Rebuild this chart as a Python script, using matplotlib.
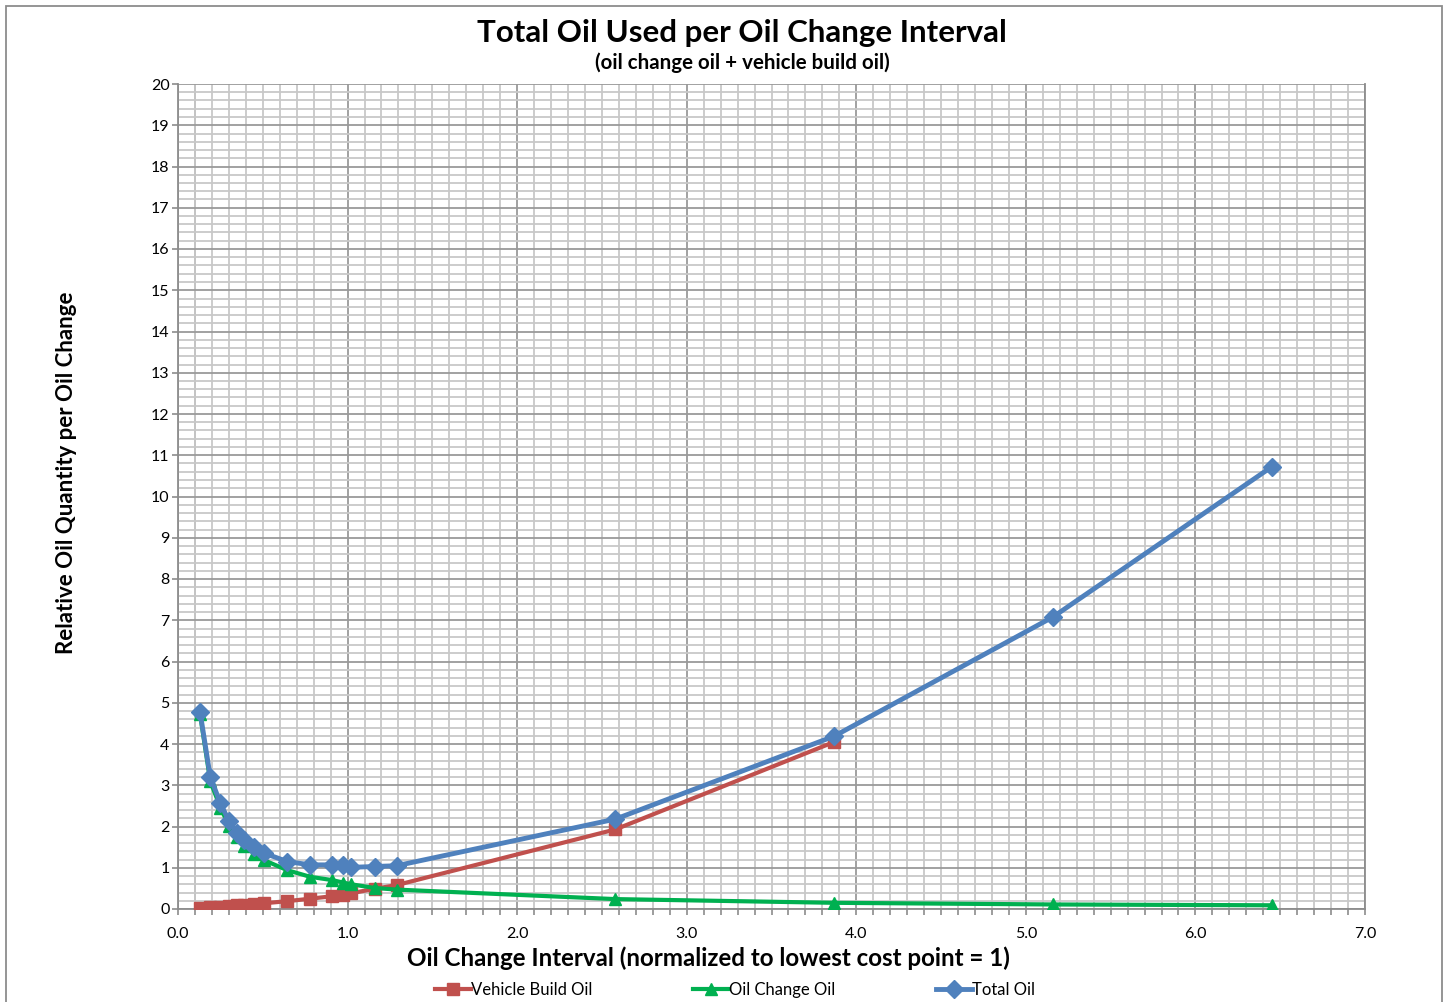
import matplotlib
matplotlib.use("Agg")
import matplotlib.pyplot as plt
from matplotlib.patches import Rectangle
from matplotlib.ticker import MultipleLocator, FormatStrFormatter

# ---- data ----
x_interval = [0.13, 0.19, 0.25, 0.30, 0.35, 0.39, 0.45, 0.51, 0.645, 0.78,
              0.91, 0.975, 1.02, 1.16, 1.29, 2.58, 3.87, 5.16, 6.45]
total_oil = [4.78, 3.21, 2.56, 2.14, 1.85, 1.67, 1.51, 1.35, 1.15, 1.07,
             1.07, 1.07, 1.01, 1.03, 1.05, 2.18, 4.19, 7.08, 10.72]
oil_change_oil = [4.72, 3.10, 2.46, 2.02, 1.74, 1.53, 1.34, 1.18, 0.94, 0.78,
                  0.70, 0.64, 0.60, 0.51, 0.47, 0.24, 0.15, 0.11, 0.09]
x_build = [0.13, 0.19, 0.25, 0.30, 0.35, 0.39, 0.45, 0.51, 0.645, 0.78,
           0.91, 0.975, 1.02, 1.16, 1.29, 2.58, 3.87]
vehicle_build_oil = [0.03, 0.05, 0.06, 0.08, 0.09, 0.10, 0.12, 0.14, 0.19, 0.25,
                     0.31, 0.34, 0.38, 0.49, 0.58, 1.93, 4.05]

title = "Total Oil Used per Oil Change Interval"
subtitle = "(oil change oil + vehicle build oil)"
xlabel = "Oil Change Interval (normalized to lowest cost point = 1)"
ylabel = "Relative Oil Quantity per Oil Change"

RED = "#C0504D"
GREEN = "#00B050"
BLUE = "#4F81BD"
FONT = ["Lato", "DejaVu Sans"]
plt.rcParams["font.family"] = FONT

W, H = 1449, 1002
fig = plt.figure(figsize=(W / 100, H / 100), dpi=100)
ax = fig.add_axes([178 / W, 1 - 909 / H, (1365 - 178) / W, (909 - 84) / H])

ax.set_xlim(0, 7)
ax.set_ylim(0, 20)
ax.xaxis.set_major_locator(MultipleLocator(1.0))
ax.xaxis.set_minor_locator(MultipleLocator(0.1))
ax.yaxis.set_major_locator(MultipleLocator(1))
ax.yaxis.set_minor_locator(MultipleLocator(0.2))
ax.xaxis.set_major_formatter(FormatStrFormatter("%.1f"))

ax.grid(which="minor", color="#c8c8c8", linewidth=1.3)
ax.grid(which="major", color="#9a9a9a", linewidth=1.3)
ax.set_axisbelow(True)
ax.axvline(0.1, color="#9a9a9a", linewidth=1.3, zorder=0.5)

for s in ax.spines.values():
    s.set_color("#8c8c8c")
    s.set_linewidth(1.3)
ax.spines["top"].set_visible(False)

ax.tick_params(axis="x", which="both", direction="out", color="#8c8c8c",
               labelsize=11.5, pad=9, length=4, width=1.2)
ax.tick_params(axis="y", which="major", direction="out", color="#8c8c8c",
               labelsize=11.5, length=4, width=1.2, pad=2)
ax.tick_params(axis="y", which="minor", length=0)

ax.plot(x_build, vehicle_build_oil, color=RED, lw=3, marker="s", ms=8,
        label="Vehicle Build Oil", zorder=3)
ax.plot(x_interval, oil_change_oil, color=GREEN, lw=3, marker="^", ms=9,
        label="Oil Change Oil", zorder=4)
ax.plot(x_interval, total_oil, color=BLUE, lw=3.5, marker="D", ms=9,
        label="Total Oil", zorder=5)

fig.text(742 / W, 1 - 33 / H, title, ha="center", va="center",
         fontsize=22.5, fontweight="bold")
fig.text(742 / W, 1 - 63 / H, subtitle, ha="center", va="center",
         fontsize=14.8, fontweight="bold")
fig.text(708 / W, 1 - 958 / H, xlabel, ha="center", va="center",
         fontsize=17.4, fontweight="bold")
fig.text(67 / W, 1 - 473 / H, ylabel, ha="center", va="center",
         rotation=90, fontsize=16, fontweight="bold")

fig.legend(loc="center", bbox_to_anchor=(735 / W, 1 - 990 / H), ncol=3,
           frameon=False, fontsize=12, columnspacing=6, handlelength=2.2,
           handletextpad=0.0)

fig.add_artist(Rectangle((6 / W, -0.01), (1442 - 6) / W, 1 - 6 / H + 0.01,
                         transform=fig.transFigure, fill=False,
                         edgecolor="#8c8c8c", linewidth=1.3))

fig.savefig("out.png", dpi=100)
